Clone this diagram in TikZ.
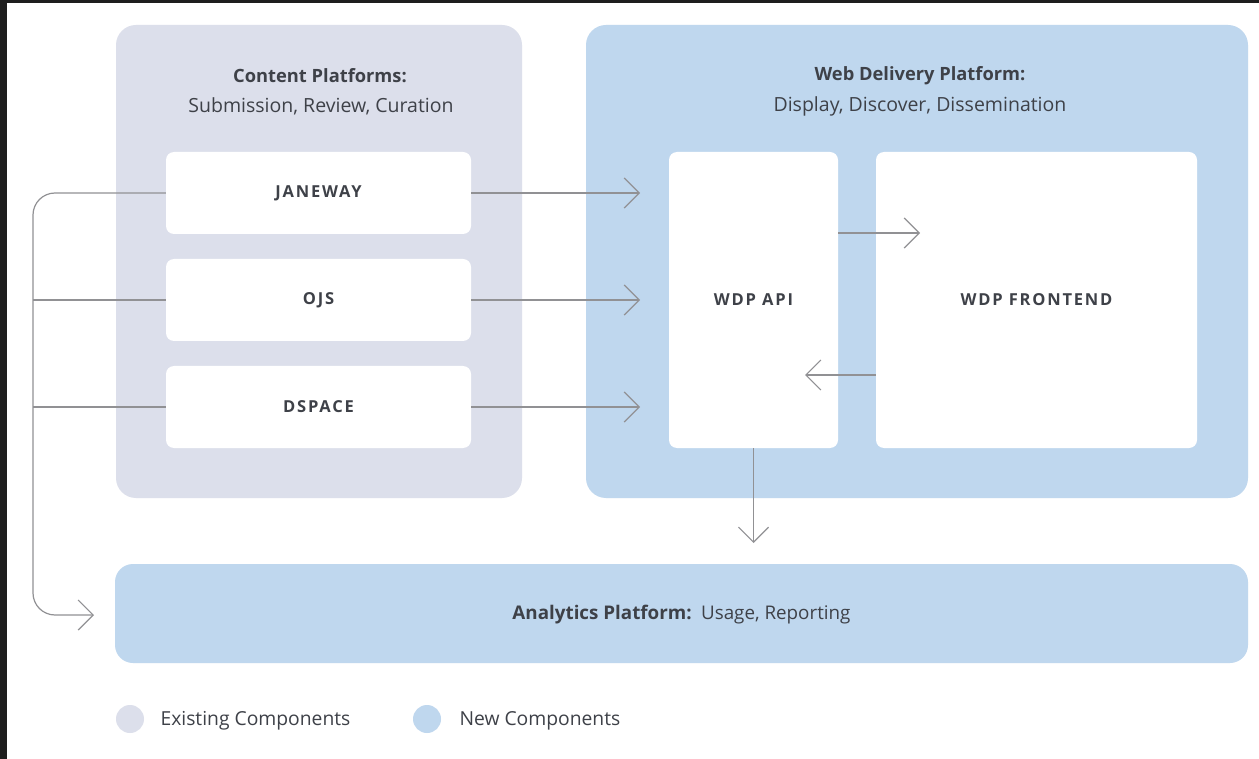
\documentclass[tikz,border=0pt]{standalone}
\usepackage{fontspec}
\setmainfont{Open Sans}
\usetikzlibrary{arrows.meta}
\definecolor{existgray}{RGB}{220,223,235}
\definecolor{newblue}{RGB}{191,215,238}
\definecolor{linegray}{RGB}{145,145,148}
\definecolor{txt}{RGB}{62,65,72}
\definecolor{frame}{RGB}{30,30,30}
\tikzset{
  box/.style={fill=white, rounded corners=8pt, inner sep=0pt, text=txt,
    font=\fontsize{16.5}{19}\selectfont\bfseries\addfontfeature{LetterSpace=11}},
  conn/.style={draw=linegray, line width=1.2pt, -{Straight Barb[length=15pt,width=30pt,line width=1.2pt]}},
  plain/.style={draw=linegray, line width=1.2pt},
  ttl/.style={text=txt, font=\fontsize{18.3}{22}\selectfont\bfseries},
  sub/.style={text=txt, font=\fontsize{19.5}{23}\selectfont},
  legtxt/.style={text=txt, font=\fontsize{19.3}{23}\selectfont, anchor=west},
}
\begin{document}
\begin{tikzpicture}[x=1pt,y=-1pt]
\useasboundingbox (0,0) rectangle (1259,759);
\fill[white] (0,0) rectangle (1259,759);
\fill[frame] (0,0) rectangle (1259,3);
\fill[frame] (0,0) rectangle (7,759);
% panels
\node[fill=existgray, rounded corners=20pt, minimum width=406pt, minimum height=473pt, inner sep=0pt] (cp) at (319,261.5) {};
\node[fill=newblue, rounded corners=20pt, minimum width=662pt, minimum height=473pt, inner sep=0pt] (wdp) at (917,261.5) {};
\node[fill=newblue, rounded corners=18pt, minimum width=1133pt, minimum height=99pt, inner sep=0pt] (ana) at (681.5,613.5) {};
% titles
\node[ttl] (cpt) at (320,75.5) {Content Platforms:};
\node[sub] (cps) at (321,106) {Submission, Review, Curation};
\node[ttl] (wdpt) at (920,75.5) {Web Delivery Platform:};
\node[sub] (wdps) at (920,106) {Display, Discover, Dissemination};
\node[text=txt, font=\fontsize{18.8}{22}\selectfont] (anat) at (681.5,615) {\textbf{Analytics Platform:}\enspace Usage, Reporting};
% boxes
\node[box, minimum width=305pt, minimum height=82pt] (jan) at (318.5,193) {\raisebox{-1.5pt}{JANEWAY}};
\node[box, minimum width=305pt, minimum height=82pt] (ojs) at (318.5,300) {\raisebox{-1.5pt}{OJS}};
\node[box, minimum width=305pt, minimum height=82pt] (dsp) at (318.5,407) {\raisebox{-1.5pt}{DSPACE}};
\node[box, minimum width=169pt, minimum height=296pt] (api) at (753.5,300) {\raisebox{-1.5pt}{WDP API}};
\node[box, minimum width=321pt, minimum height=296pt] (fe) at (1036.5,300) {\raisebox{-1.5pt}{WDP FRONTEND}};
% connector endpoints
\coordinate (janT) at (640,193);
\coordinate (ojsT) at (640,300);
\coordinate (dspT) at (640,407);
\coordinate (feT) at (920,233);
\coordinate (apiT) at (805,375);
\coordinate (downT) at (753.5,543);
\coordinate (leftX) at (33,615);
\coordinate (anaT) at (94,615);
% connectors
\draw[conn] (jan.east) -- (janT);
\draw[conn] (ojs.east) -- (ojsT);
\draw[conn] (dsp.east) -- (dspT);
\draw[conn] (api.east |- feT) -- (feT);
\draw[conn] (fe.west |- apiT) -- (apiT);
\draw[conn] (api.south) -- (downT);
\draw[conn, rounded corners=22pt] (jan.west) -| (leftX) -- (anaT);
\draw[plain] (ojs.west) -- (ojs.west -| leftX);
\draw[plain] (dsp.west) -- (dsp.west -| leftX);
% legend
\fill[existgray] (130,719) circle (14pt);
\node[legtxt] (leg1) at (157,720.5) {Existing Components};
\fill[newblue] (427,719) circle (14pt);
\node[legtxt] (leg2) at (456,720.5) {New Components};
\end{tikzpicture}
\end{document}
